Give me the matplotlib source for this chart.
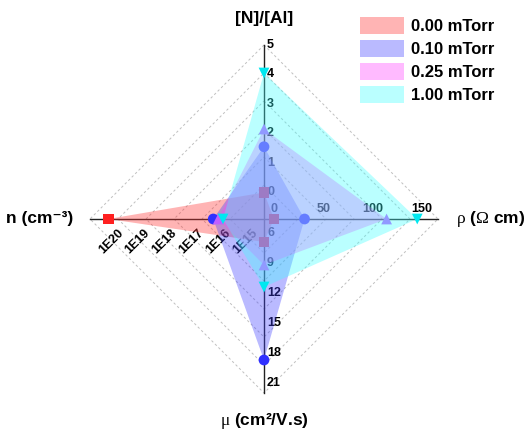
import matplotlib.pyplot as plt
import numpy as np

plt.rcParams['font.family'] = ['Liberation Sans', 'DejaVu Sans']
plt.rcParams['mathtext.fontset'] = 'custom'
plt.rcParams['mathtext.rm'] = 'Liberation Serif'
plt.rcParams['mathtext.it'] = 'Liberation Serif'

# ===== Daten =====
series = ['0.00 mTorr', '0.10 mTorr', '0.25 mTorr', '1.00 mTorr']
n_al = [0.0, 1.55, 2.15, 4.05]          # [N]/[Al]
rho = [0.0, 31.0, 114.0, 145.0]          # rho (Ohm cm)
mu = [6.9, 18.7, 9.2, 11.4]              # mu (cm2/V.s)
n_conc = [1.8e20, 2.3e16, 1.5e16, 1.0e16]  # n (cm-3)

fill_colors = ['#ff3030', '#4040ff', '#ff40ff', '#40ffff']
marker_colors = ['#ff2020', '#3030ff', '#c060ff', '#00e8f0']
markers = ['s', 'o', '^', 'v']

top_ticks = [0, 1, 2, 3, 4, 5]
right_ticks = [0, 50, 100, 150]
bottom_ticks = [6, 9, 12, 15, 18, 21]
left_ticks = [1e15, 1e16, 1e17, 1e18, 1e19, 1e20]
left_labels = ['1E15', '1E16', '1E17', '1E18', '1E19', '1E20']

# ===== Geometrie (Pixel) =====
cx, cy = 264, 219
R = 174


def r_top(v):
    return (v + 0.9) / 5.9 * R


def r_right(v):
    return (v + 10) / 176 * R


def r_bottom(v):
    return (v - 4.6) / 17.4 * R


def r_left(v):
    return (np.log10(v) - 14.48) / 6.45 * R


fig = plt.figure(figsize=(5.28, 4.38), dpi=100)
ax = fig.add_axes([0, 0, 1, 1])
ax.set_xlim(0, 528)
ax.set_ylim(438, 0)
ax.axis('off')

# ===== Gitter (gestrichelte Rauten) =====
for rr in [174, 146, 118, 90, 62, 34]:
    ax.plot([cx, cx + rr, cx, cx - rr, cx], [cy - rr, cy, cy + rr, cy, cy - rr],
            ls=(0, (2.5, 2.5)), color='#c0c0c0', lw=0.7, zorder=1)

# ===== Achsen =====
ax.plot([cx, cx], [cy - R, cy + R], color='#222222', lw=1.0, zorder=2)
ax.plot([cx - R, cx + R], [cy, cy], color='#222222', lw=1.0, zorder=2)

tfs = 9
for t in top_ticks:
    ax.text(cx + 3, cy - r_top(t), str(t), fontsize=tfs, fontweight='bold',
            ha='left', va='center', zorder=2)
for t in right_ticks:
    ax.text(cx + r_right(t), cy - 4, str(t), fontsize=tfs, fontweight='bold',
            ha='center', va='bottom', zorder=2)
for t in bottom_ticks:
    ax.text(cx + 3, cy + r_bottom(t), str(t), fontsize=tfs, fontweight='bold',
            ha='left', va='center', zorder=2)
for t, lab in zip(left_ticks, left_labels):
    ax.text(cx - r_left(t) + 2, cy + 8, lab, fontsize=tfs, fontweight='bold',
            ha='right', va='top', rotation=45, rotation_mode='anchor', zorder=2)

# ===== Achsentitel =====
ax.text(cx, 19, '[N]/[Al]', fontsize=12.5, fontweight='bold', ha='center', va='center')
ax.text(456, cy, r'$\rho$ ($\Omega$ cm)', fontsize=12.5, fontweight='bold',
        ha='left', va='center')
ax.text(40, cy, 'n (cm\u207b\u00b3)', fontsize=12.5, fontweight='bold',
        ha='center', va='center')
ax.text(cx, 421, r'$\mu$ (cm²/V.s)', fontsize=12.5, fontweight='bold',
        ha='center', va='center')

# ===== Polygone =====
z = 3
for i in range(len(series)):
    xs = [cx, cx + r_right(rho[i]), cx, cx - r_left(n_conc[i])]
    ys = [cy - r_top(n_al[i]), cy, cy + r_bottom(mu[i]), cy]
    ax.fill(xs, ys, color=fill_colors[i], alpha=0.36, lw=0, zorder=z,
            label=series[i])
    ax.scatter(xs, ys, marker=markers[i], s=60, color=marker_colors[i],
               edgecolors='none', zorder=z + 0.5)
    z += 1

leg = ax.legend(loc='upper right', bbox_to_anchor=(0.965, 0.995), frameon=False,
                prop={'weight': 'bold', 'size': 12}, handlelength=2.6,
                handleheight=1.2, labelspacing=0.35, handletextpad=0.45)

plt.savefig('out.png', dpi=100)
